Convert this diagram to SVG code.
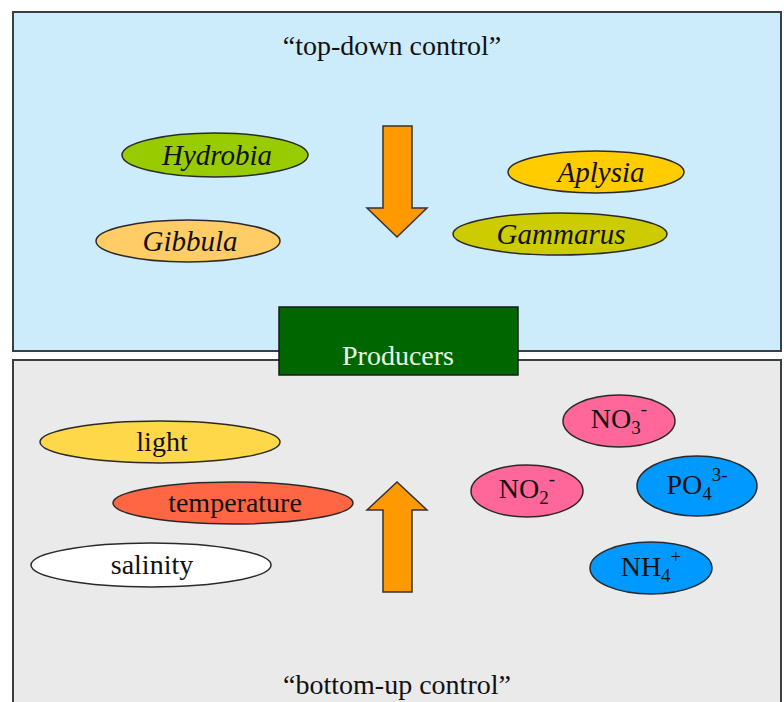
<svg xmlns="http://www.w3.org/2000/svg" width="784" height="702" viewBox="0 0 784 702">
<style>
  .panel { stroke: #3a3f44; stroke-width: 2; }
  .node { stroke: #2a2a2a; stroke-width: 1.5; }
  .lbl { font-family: "Liberation Serif", "Times New Roman", serif; font-size: 28px; fill: #111; text-anchor: middle; }
  .it { font-style: italic; font-size: 29px; }
  .arrow { fill: #FF9900; stroke: #333; stroke-width: 1.5; stroke-linejoin: miter; }
  .sub { font-size: 19px; }
</style>
<rect width="784" height="702" fill="#ffffff"/>
<g id="top-panel">
  <rect class="panel" x="13" y="12" width="768" height="339" fill="#CCEBFB"/>
  <text class="lbl" x="392" y="55">“top-down control”</text>
</g>
<g id="bottom-panel">
  <rect class="panel" x="13" y="360" width="768" height="360" fill="#EAEAEA"/>
  <text class="lbl" x="397" y="694">“bottom-up control”</text>
</g>
<g id="connectors">
  <path class="arrow" d="M383,126 H412 V208 H427 L397,237 L367,208 H383 Z"/>
  <path class="arrow" d="M383,592 H412 V510 H427 L397,482 L367,510 H383 Z"/>
</g>
<g id="producers">
  <rect x="279" y="307" width="239" height="68" fill="#006600" stroke="#1a1a1a" stroke-width="1.5"/>
  <text class="lbl" x="398" y="365" style="fill:#E6FFE6">Producers</text>
</g>
<g id="hydrobia">
  <ellipse class="node" cx="215" cy="155" rx="93" ry="22" fill="#99CC00"/>
  <text class="lbl it" x="217" y="165">Hydrobia</text>
</g>
<g id="gibbula">
  <ellipse class="node" cx="188" cy="241" rx="92" ry="21" fill="#FFCC66"/>
  <text class="lbl it" x="190" y="251">Gibbula</text>
</g>
<g id="aplysia">
  <ellipse class="node" cx="596" cy="172" rx="88" ry="21" fill="#FFCC00"/>
  <text class="lbl it" x="601" y="182">Aplysia</text>
</g>
<g id="gammarus">
  <ellipse class="node" cx="560" cy="234" rx="107" ry="21" fill="#CCCC00"/>
  <text class="lbl it" x="561" y="244">Gammarus</text>
</g>
<g id="light">
  <ellipse class="node" cx="160" cy="442" rx="120" ry="21" fill="#FFD84A"/>
  <text class="lbl" x="162" y="451">light</text>
</g>
<g id="temperature">
  <ellipse class="node" cx="233" cy="503" rx="120" ry="21" fill="#FF6644"/>
  <text class="lbl" x="235" y="512">temperature</text>
</g>
<g id="salinity">
  <ellipse class="node" cx="151" cy="565" rx="120" ry="22" fill="#FFFFFF"/>
  <text class="lbl" x="152" y="574">salinity</text>
</g>
<g id="no3">
  <ellipse class="node" cx="619" cy="421" rx="56" ry="26" fill="#FF6699"/>
  <text class="lbl" x="619" y="428">NO<tspan class="sub" dy="6">3</tspan><tspan class="sub" dy="-19">-</tspan></text>
</g>
<g id="no2">
  <ellipse class="node" cx="527" cy="491" rx="56" ry="26" fill="#FF6699"/>
  <text class="lbl" x="527" y="498">NO<tspan class="sub" dy="6">2</tspan><tspan class="sub" dy="-19">-</tspan></text>
</g>
<g id="po4">
  <ellipse class="node" cx="697" cy="486" rx="60" ry="30" fill="#0099FF"/>
  <text class="lbl" x="697" y="494">PO<tspan class="sub" dy="6">4</tspan><tspan class="sub" dy="-19">3-</tspan></text>
</g>
<g id="nh4">
  <ellipse class="node" cx="651" cy="568" rx="61" ry="26" fill="#0099FF"/>
  <text class="lbl" x="651" y="576">NH<tspan class="sub" dy="6">4</tspan><tspan class="sub" dy="-19">+</tspan></text>
</g>
</svg>
